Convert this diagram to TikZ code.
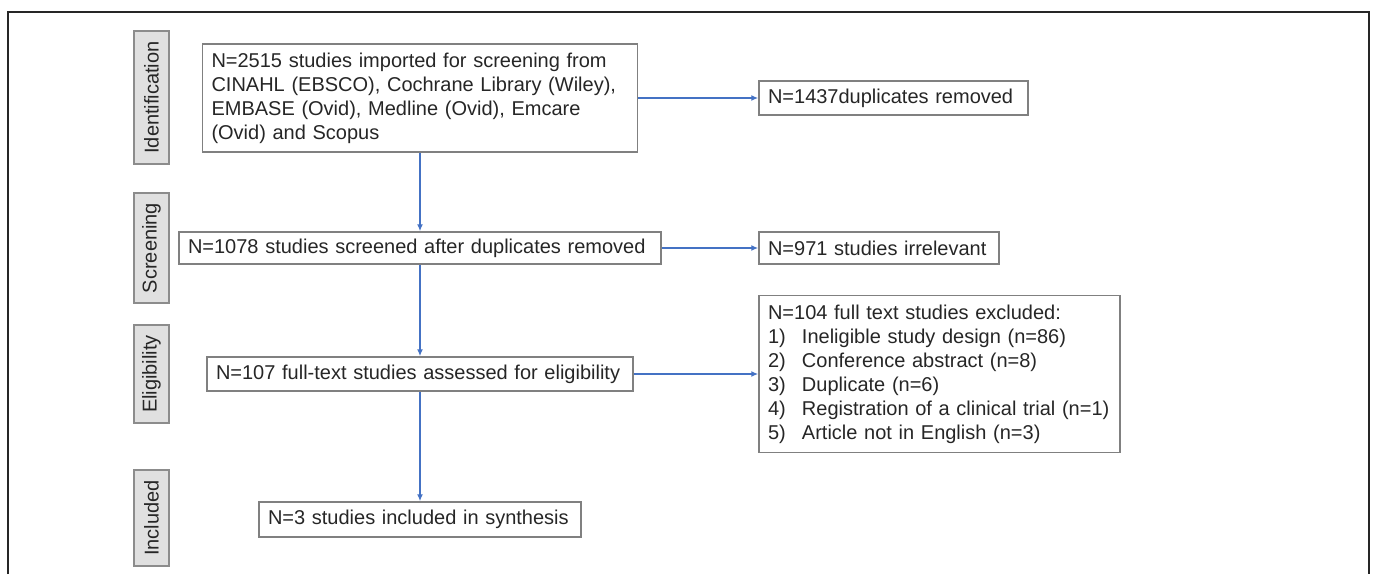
\documentclass[tikz,border=0pt]{standalone}
\usepackage{fontspec}
\setmainfont{Liberation Sans}
\usepackage{tikz}
\usetikzlibrary{arrows.meta}
\definecolor{flowblue}{HTML}{4472C4}

\begin{document}
\begin{tikzpicture}[x=0.5pt,y=-0.5pt,
	every node/.style={font=\fontsize{10}{12}\selectfont,text=black!85},
	box/.style={draw=black!50,line width=0.75pt,inner xsep=4.5pt,inner ysep=1pt,align=left},
	phase/.style={draw=black!45,fill=black!12,line width=1pt,rotate=90,minimum height=17.5pt,inner sep=0pt},
	flow/.style={draw=flowblue,line width=0.75pt,-{Latex[length=3.5pt,width=3pt]}}]
			\useasboundingbox (0,0) rectangle (1375,574);
			\draw[line width=0.75pt,black!85] (8,574) -- (8,12) -- (1369,12) -- (1369,574);
			
			\node[phase,minimum width=66.5pt] (ID) at (151.5,97.5) {Identification};
			\node[phase,minimum width=55pt] (SC) at (151.5,248) {Screening};
			\node[phase,minimum width=49pt] (EL) at (151.5,374) {Eligibility};
			\node[phase,minimum width=48pt] (IN) at (151.5,518) {Included};
			
			\node[box,text width=208.5pt,minimum height=54pt] (S1) at (420,98) {N=2515 studies imported for screening from\\CINAHL (EBSCO), Cochrane Library (Wiley),\\EMBASE (Ovid), Medline (Ovid), Emcare\\(Ovid) and Scopus};
			\node[box,text width=232pt,minimum height=16pt] (S2) at (420,248) {N=1078 studies screened after duplicates removed};
			\node[box,text width=204pt,minimum height=17pt] (S3) at (420,374) {N=107 full-text studies assessed for eligibility};
			\node[box,text width=152pt,minimum height=17.5pt] (S4) at (420,519.5) {N=3 studies included in synthesis};
			
			\node[box,text width=125.5pt,minimum height=17pt] (X1) at (893.5,98) {N=1437duplicates removed};
			\node[box,text width=111pt,minimum height=16pt] (X2) at (879,248) {N=971 studies irrelevant};
			\node[box,text width=171.5pt,minimum height=78.5pt] (X3) at (939.5,374) {N=104 full text studies excluded:\\
				\makebox[17pt][l]{1)}Ineligible study design (n=86)\\
				\makebox[17pt][l]{2)}Conference abstract (n=8)\\
				\makebox[17pt][l]{3)}Duplicate (n=6)\\
				\makebox[17pt][l]{4)}Registration of a clinical trial (n=1)\\
				\makebox[17pt][l]{5)}Article not in English (n=3)};
			
			\draw[flow] (S1)--(S2);
			\draw[flow] (S2)--(S3);
			\draw[flow] (S3)--(S4);
			\draw[flow] (S1)--(X1);
			\draw[flow] (S2)--(X2);
			\draw[flow] (S3)--(X3);
		\end{tikzpicture}
\end{document}
